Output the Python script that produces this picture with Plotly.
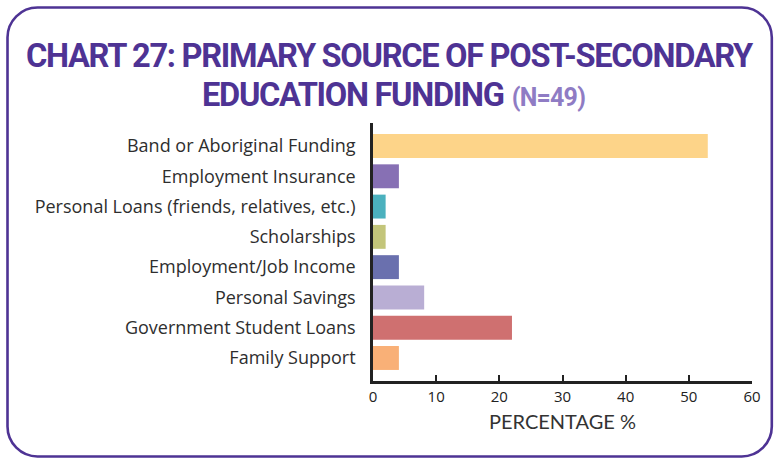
import plotly.graph_objects as go

categories = [
    "Band or Aboriginal Funding",
    "Employment Insurance",
    "Personal Loans (friends, relatives, etc.)",
    "Scholarships",
    "Employment/Job Income",
    "Personal Savings",
    "Government Student Loans",
    "Family Support",
]
percentages = [53.0, 4.1, 2.0, 2.0, 4.1, 8.1, 22.0, 4.1]
bar_colors = ["#fdd489", "#8770b4", "#4bb1be", "#c3c57a", "#6a70ae", "#b9aed4", "#cf7070", "#f9b077"]
x_ticks = [0, 10, 20, 30, 40, 50, 60]

W, H = 778, 458
L, R, T, B = 372.7, 26.3, 123, 77
PW, PH = W - L - R, H - T - B


def px(x):
    return (x - L) / PW


def py(y):
    return (H - B - y) / PH


def rounded_rect(x0, y0, x1, y1, r):
    k = 0.45
    pts = [
        f"M{px(x0 + r)},{py(y0)}",
        f"L{px(x1 - r)},{py(y0)}",
        f"C{px(x1 - r * k)},{py(y0)} {px(x1)},{py(y0 + r * k)} {px(x1)},{py(y0 + r)}",
        f"L{px(x1)},{py(y1 - r)}",
        f"C{px(x1)},{py(y1 - r * k)} {px(x1 - r * k)},{py(y1)} {px(x1 - r)},{py(y1)}",
        f"L{px(x0 + r)},{py(y1)}",
        f"C{px(x0 + r * k)},{py(y1)} {px(x0)},{py(y1 - r * k)} {px(x0)},{py(y1 - r)}",
        f"L{px(x0)},{py(y0 + r)}",
        f"C{px(x0)},{py(y0 + r * k)} {px(x0 + r * k)},{py(y0)} {px(x0 + r)},{py(y0)}",
        "Z",
    ]
    return " ".join(pts)


fig = go.Figure(
    go.Bar(
        x=percentages,
        y=categories,
        orientation="h",
        marker=dict(color=bar_colors, line=dict(width=0)),
        width=0.79,
        hoverinfo="skip",
    )
)

title_font = "Roboto, sans-serif"
ls = "letter-spacing:-1.3px"

fig.update_layout(
    width=W,
    height=H,
    margin=dict(l=L, r=R, t=T, b=B, pad=0),
    paper_bgcolor="white",
    plot_bgcolor="white",
    showlegend=False,
    xaxis=dict(
        range=[0, 60],
        tickvals=x_ticks,
        ticks="inside",
        ticklen=6,
        tickwidth=2,
        tickcolor="#222222",
        showline=True,
        linewidth=2.5,
        linecolor="#222222",
        showgrid=False,
        zeroline=False,
        tickfont=dict(family="Open Sans, sans-serif", size=15, color="#222222"),
        title=dict(
            text="PERCENTAGE %",
            font=dict(family="Lato, sans-serif", size=20, color="#333333"),
            standoff=11,
        ),
    ),
    yaxis=dict(
        categoryorder="array",
        categoryarray=categories,
        range=[7.76, -0.76],
        showline=True,
        linewidth=2.5,
        linecolor="#222222",
        showgrid=False,
        zeroline=False,
        ticks="",
        ticklabelstandoff=11,
        tickfont=dict(family="Open Sans, sans-serif", size=18, color="#2e2e2e"),
    ),
    shapes=[
        dict(
            type="path",
            xref="paper",
            yref="paper",
            path=rounded_rect(7.2, 7.5, 771.5, 456.5, 30),
            line=dict(color="#4e3394", width=2.6),
            fillcolor="rgba(0,0,0,0)",
            layer="below",
        )
    ],
    annotations=[
        dict(
            text=f"<span style='{ls}'><b>CHART 27: PRIMARY SOURCE OF POST-SECONDARY</b></span>",
            xref="paper",
            yref="paper",
            x=px(390),
            y=py(55.5),
            xanchor="center",
            yanchor="middle",
            showarrow=False,
            font=dict(family=title_font, size=32.6, color="#4e3394"),
        ),
        dict(
            text=f"<span style='{ls}'><b>EDUCATION FUNDING</b></span> <span style='font-size:25px;color:#8f7cc4;letter-spacing:-0.8px'><b>(N=49)</b></span>",
            xref="paper",
            yref="paper",
            x=px(393),
            y=py(95),
            xanchor="center",
            yanchor="middle",
            showarrow=False,
            font=dict(family=title_font, size=32.6, color="#4e3394"),
        ),
    ],
)

fig.write_html("out.html")
